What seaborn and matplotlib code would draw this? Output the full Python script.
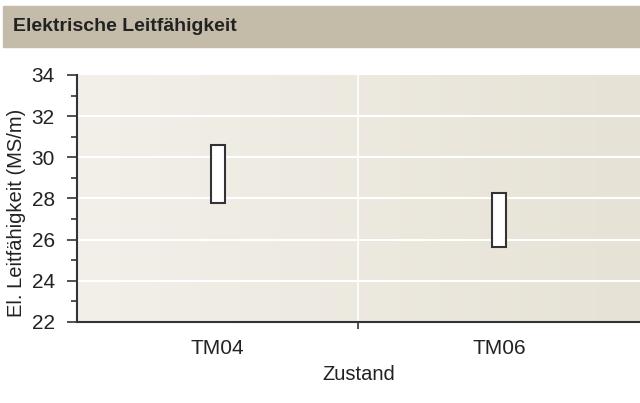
import numpy as np
import pandas as pd
import seaborn as sns
import matplotlib.pyplot as plt
from matplotlib.colors import LinearSegmentedColormap
from matplotlib.ticker import MultipleLocator, FixedLocator

# values
zustand = ["TM04", "TM06"]
leit_min = [27.8, 25.65]
leit_max = [30.6, 28.25]

df = pd.DataFrame({"Zustand": zustand, "min": leit_min, "max": leit_max})
df["spanne"] = df["max"] - df["min"]

sns.set_theme(style="white")
plt.rcParams["font.family"] = ["Liberation Sans", "DejaVu Sans"]
txt = "#222222"

fig = plt.figure(figsize=(6.4, 4.03), dpi=100)
ax = fig.add_axes([0.1203, 0.201, 0.8797, 0.613])

# header band
fig.patches.append(plt.Rectangle((3 / 640, 0.884), 1 - 3 / 640, 0.101,
                                 transform=fig.transFigure, color="#c4bca8", zorder=0))
fig.text(13 / 640, 0.934, "Elektrische Leitfähigkeit", fontsize=14,
         fontweight="bold", color=txt, va="center", ha="left")

sns.barplot(data=df, x="Zustand", y="spanne", bottom=df["min"].values, ax=ax,
            width=0.05, color="white", saturation=1, edgecolor="#333333",
            linewidth=1.5, errorbar=None, zorder=3)

# light-to-dark background across the plot area
bg = LinearSegmentedColormap.from_list("bg", ["#f3f0ea", "#e6e2d5"])
grad = np.linspace(0, 1, 256).reshape(1, -1)
ax.imshow(grad, cmap=bg, aspect="auto", extent=(-0.5, 1.5, 22, 34), zorder=0)

ax.set_xlim(-0.5, 1.5)
ax.set_ylim(22, 34)
ax.yaxis.set_major_locator(MultipleLocator(2))
ax.yaxis.set_minor_locator(MultipleLocator(1))
ax.xaxis.set_minor_locator(FixedLocator([0.5]))

for y in [24, 26, 28, 30, 32]:
    ax.axhline(y, color="white", lw=1.5, zorder=1)
ax.axvline(0.5, color="white", lw=1.2, zorder=1)

for s in ["top", "right"]:
    ax.spines[s].set_visible(False)
for s in ["left", "bottom"]:
    ax.spines[s].set_color("#333333")
    ax.spines[s].set_linewidth(1.5)
    ax.spines[s].set_zorder(4)

ax.tick_params(axis="y", which="major", direction="out", length=7, width=1.2,
               color="#333333", labelsize=15, labelcolor=txt, pad=9, left=True)
ax.tick_params(axis="y", which="minor", direction="out", length=4, width=1.2,
               color="#333333", left=True)
ax.tick_params(axis="x", which="major", length=0, labelsize=15, labelcolor=txt, pad=12)
ax.tick_params(axis="x", which="minor", direction="out", length=5, width=1.2,
               color="#333333", bottom=True)

ax.set_xlabel("Zustand", fontsize=14.5, color=txt)
ax.xaxis.set_label_coords(0.5, -0.175)
ax.set_ylabel("El. Leitfähigkeit (MS/m)", fontsize=14.5, color=txt)
ax.yaxis.set_label_coords(-0.09, 0.44)

fig.savefig("out.png", dpi=100)
